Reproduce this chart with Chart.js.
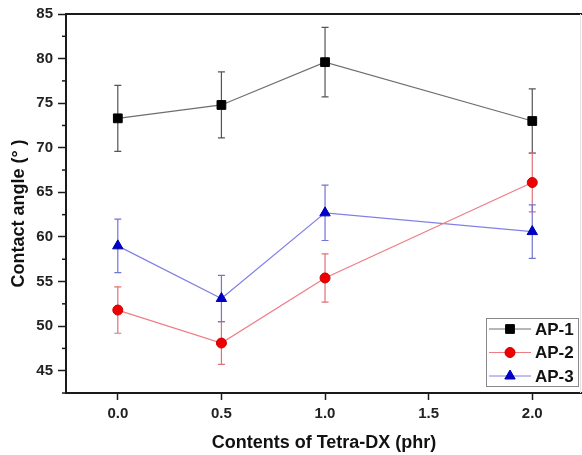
<!DOCTYPE html>
<html>
<head>
<meta charset="utf-8">
<script src="https://cdn.jsdelivr.net/npm/chart.js@4/dist/chart.umd.min.js"></script>
<style>
  html, body { margin: 0; padding: 0; background: #fff; }
  #wrap { width: 582px; height: 455px; }
</style>
</head>
<body>
<div id="wrap"><canvas id="myChart"></canvas></div>
<script>
// data
var xValues = [0.0, 0.5, 1.0, 2.0];
var ap1 = [73.3, 74.8, 79.6, 73.0];
var ap1Err = [3.7, 3.7, 3.9, 3.6];
var ap2 = [51.8, 48.1, 55.4, 66.1];
var ap2Err = [2.6, 2.4, 2.7, 3.3];
var ap3 = [59.0, 53.1, 62.7, 60.6];
var ap3Err = [3.0, 2.6, 3.1, 3.0];
var seriesNames = ["AP-1", "AP-2", "AP-3"];
var xTicks = [0.0, 0.5, 1.0, 1.5, 2.0];
var yTicks = [45, 50, 55, 60, 65, 70, 75, 80, 85];

var errs = [ap1Err, ap2Err, ap3Err];

function pts(vals) {
  return xValues.map(function (x, i) { return { x: x, y: vals[i] }; });
}

// error bars, drawn under the markers
var errorBars = {
  id: 'errorBars',
  beforeDatasetsDraw: function (chart) {
    var ctx = chart.ctx;
    var xs = chart.scales.x, ys = chart.scales.y;
    chart.data.datasets.forEach(function (ds, d) {
      var e = errs[d];
      ctx.save();
      ctx.strokeStyle = ds.errColor;
      ctx.lineWidth = 1.2;
      ds.data.forEach(function (p, i) {
        var x = xs.getPixelForValue(p.x);
        var t = ys.getPixelForValue(p.y + e[i]);
        var b = ys.getPixelForValue(p.y - e[i]);
        ctx.beginPath();
        ctx.moveTo(x, t); ctx.lineTo(x, b);
        ctx.moveTo(x - 3.5, t); ctx.lineTo(x + 3.5, t);
        ctx.moveTo(x - 3.5, b); ctx.lineTo(x + 3.5, b);
        ctx.stroke();
      });
      ctx.restore();
    });
  }
};

// frame, minor ticks and boxed legend
var frameAndLegend = {
  id: 'frameAndLegend',
  afterDraw: function (chart) {
    var ctx = chart.ctx, a = chart.chartArea;
    var ys = chart.scales.y;
    ctx.save();
    ctx.strokeStyle = '#1a1a1a';
    ctx.lineWidth = 2;
    ctx.beginPath();
    ctx.moveTo(a.left, a.top); ctx.lineTo(a.right, a.top);
    ctx.stroke();
    // faint right edge
    ctx.strokeStyle = '#e4e4e4';
    ctx.lineWidth = 1;
    ctx.beginPath();
    ctx.moveTo(a.right - 1.5, a.top); ctx.lineTo(a.right - 1.5, a.bottom);
    ctx.stroke();

    ctx.strokeStyle = '#1a1a1a';
    ctx.lineWidth = 1.5;
    for (var v = 42.5; v < 85; v += 5) {
      var y = ys.getPixelForValue(v);
      ctx.beginPath();
      ctx.moveTo(a.left - 4, y); ctx.lineTo(a.left, y);
      ctx.stroke();
    }

    // legend box
    var bx = 486, by = 318, bw = 92, bh = 68;
    ctx.fillStyle = '#fff';
    ctx.fillRect(bx, by, bw, bh);
    ctx.strokeStyle = '#888';
    ctx.lineWidth = 1;
    ctx.strokeRect(bx + 0.5, by + 0.5, bw, bh);
    chart.data.datasets.forEach(function (ds, i) {
      var y = by + 11 + i * 23.5;
      ctx.strokeStyle = ds.borderColor;
      ctx.lineWidth = 1;
      ctx.beginPath();
      ctx.moveTo(bx + 3, y); ctx.lineTo(bx + 45, y);
      ctx.stroke();
      ctx.fillStyle = ds.pointBackgroundColor;
      ctx.strokeStyle = ds.pointBorderColor;
      Chart.helpers.drawPoint(ctx, { pointStyle: ds.pointStyle, radius: ds.pointRadius, rotation: 0, borderWidth: 1 }, bx + 24, y);
      ctx.fillStyle = '#111';
      ctx.font = 'bold 17px "Liberation Sans", Arial, sans-serif';
      ctx.textBaseline = 'middle';
      ctx.textAlign = 'left';
      ctx.fillText(ds.label, bx + 49, y + 1);
    });
    ctx.restore();
  }
};

var tickFont = { family: '"Liberation Sans", Arial, sans-serif', size: 15, weight: 'bold' };
var titleFont = { family: '"Liberation Sans", Arial, sans-serif', size: 18, weight: 'bold' };

new Chart("myChart", {
  type: "scatter",
  data: {
    datasets: [{
      label: seriesNames[0],
      data: pts(ap1),
      showLine: true,
      borderColor: '#6e6e6e',
      borderWidth: 1.2,
      errColor: '#555',
      pointStyle: 'rect',
      pointRadius: 6.2,
      pointBackgroundColor: '#000',
      pointBorderColor: '#000',
      pointBorderWidth: 1
    }, {
      label: seriesNames[1],
      data: pts(ap2),
      showLine: true,
      borderColor: '#ee7c86',
      borderWidth: 1.2,
      errColor: '#e0707a',
      pointStyle: 'circle',
      pointRadius: 5,
      pointBackgroundColor: '#ee0000',
      pointBorderColor: '#cc0000',
      pointBorderWidth: 1
    }, {
      label: seriesNames[2],
      data: pts(ap3),
      showLine: true,
      borderColor: '#8080e6',
      borderWidth: 1.2,
      errColor: '#7474d4',
      pointStyle: 'triangle',
      pointRadius: 6,
      pointBackgroundColor: '#0000cc',
      pointBorderColor: '#0000aa',
      pointBorderWidth: 1
    }]
  },
  options: {
    responsive: true,
    maintainAspectRatio: false,
    animation: false,
    devicePixelRatio: 1,
    layout: { autoPadding: false, padding: { top: 14, right: 0, left: 0, bottom: 0 } },
    plugins: {
      legend: { display: false },
      tooltip: { enabled: false }
    },
    scales: {
      x: {
        type: 'linear',
        min: -0.25,
        max: 2.24,
        border: { display: true, width: 2, color: '#1a1a1a' },
        grid: { drawOnChartArea: false, drawTicks: true, tickLength: 7, tickWidth: 1.5, tickColor: '#1a1a1a' },
        afterBuildTicks: function (s) { s.ticks = xTicks.map(function (v) { return { value: v }; }); },
        afterFit: function (s) { s.height = 62; },
        ticks: {
          font: tickFont, color: '#222', padding: 5,
          callback: function (v) { return Number(v).toFixed(1); }
        },
        title: { display: true, text: 'Contents of Tetra-DX (phr)', font: titleFont, color: '#111', padding: { top: 0, bottom: 1 } }
      },
      y: {
        type: 'linear',
        min: 42.5,
        max: 85,
        border: { display: true, width: 2, color: '#1a1a1a' },
        grid: { drawOnChartArea: false, drawTicks: true, tickLength: 8, tickWidth: 1.5, tickColor: '#1a1a1a' },
        afterBuildTicks: function (s) { s.ticks = yTicks.map(function (v) { return { value: v }; }); },
        afterFit: function (s) { s.width = 66; },
        ticks: { font: tickFont, color: '#222', padding: 5 },
        title: { display: true, text: 'Contact angle (° )    ', font: titleFont, color: '#111', padding: { top: 8, bottom: 0 } }
      }
    }
  },
  plugins: [errorBars, frameAndLegend]
});
</script>
</body>
</html>
